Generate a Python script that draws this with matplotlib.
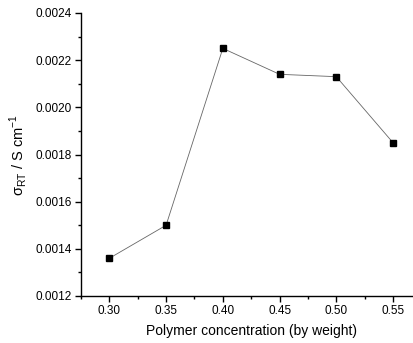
import matplotlib
matplotlib.use("Agg")
import matplotlib.pyplot as plt
from matplotlib.ticker import MultipleLocator, FormatStrFormatter

plt.rcParams['font.family'] = ['Liberation Sans', 'DejaVu Sans']
plt.rcParams['mathtext.fontset'] = 'custom'
plt.rcParams['mathtext.rm'] = 'Liberation Sans'

conc = [0.30, 0.35, 0.40, 0.45, 0.50, 0.55]
sigma = [0.00136, 0.00150, 0.00225, 0.00214, 0.00213, 0.00185]

fig = plt.figure(figsize=(4.14, 3.43), dpi=100)
ax = fig.add_axes([81/414, 47/343, 340.4/414, 283/343])
ax.plot(conc, sigma, color='#666666', lw=0.6, marker='s', ms=4.6,
        mfc='black', mec='black')
ax.set_xlim(0.275, 0.575)
ax.set_ylim(0.0012, 0.0024)
ax.xaxis.set_major_locator(MultipleLocator(0.05))
ax.xaxis.set_minor_locator(MultipleLocator(0.025))
ax.yaxis.set_major_locator(MultipleLocator(0.0002))
ax.yaxis.set_minor_locator(MultipleLocator(0.0001))
ax.xaxis.set_major_formatter(FormatStrFormatter('%.2f'))
ax.yaxis.set_major_formatter(FormatStrFormatter('%.4f'))
for s in ['top', 'right']:
    ax.spines[s].set_visible(False)
for s in ['left', 'bottom']:
    ax.spines[s].set_linewidth(1.0)
ax.tick_params(which='major', direction='out', length=4.5, width=1.0, labelsize=8.5, pad=2)
ax.tick_params(which='minor', direction='out', length=2.5, width=1.0)
ax.set_xlabel('Polymer concentration (by weight)', fontsize=10, labelpad=5)
ax.set_ylabel('σ$_{\\mathregular{RT}}$ / S cm$^{\\mathregular{-1}}$', fontsize=10.5, labelpad=5)
fig.savefig('out.png', dpi=100)
